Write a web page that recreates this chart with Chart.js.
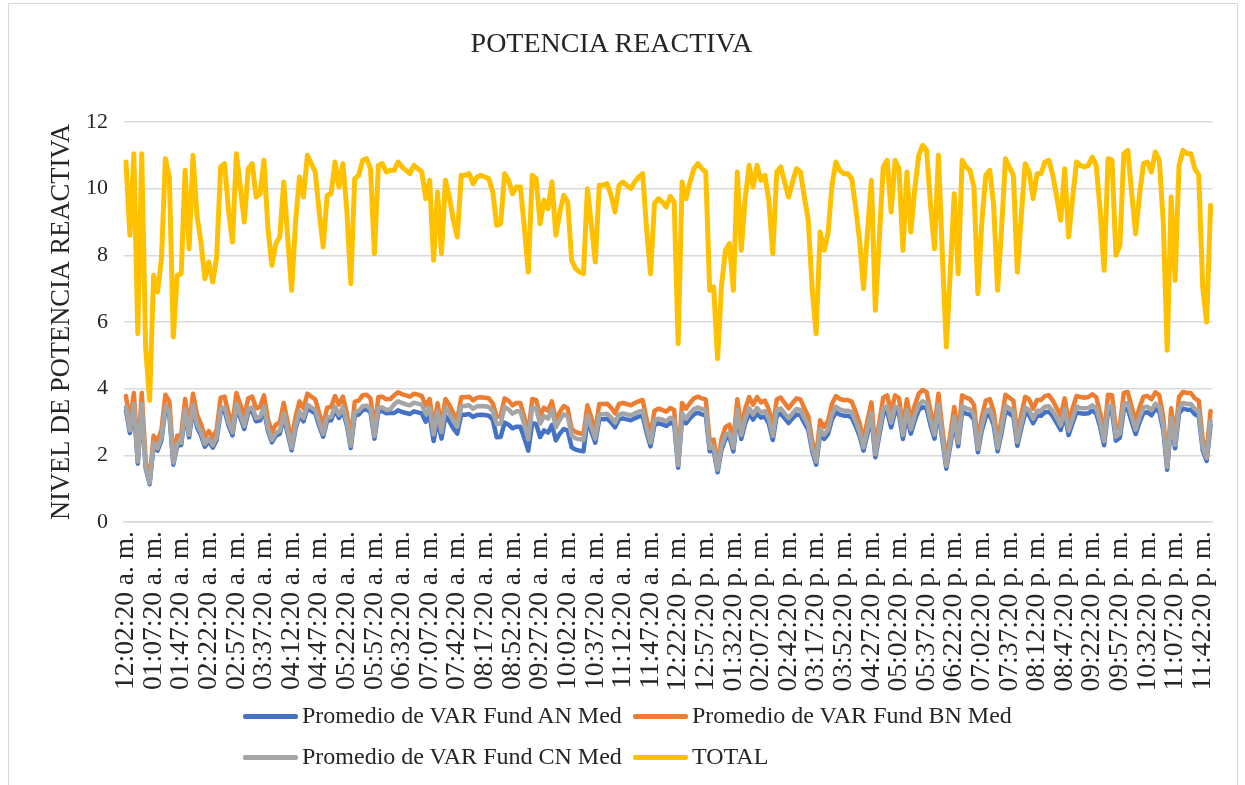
<!DOCTYPE html>
<html>
<head>
<meta charset="utf-8">
<title>Potencia reactiva</title>
<script src="https://cdn.jsdelivr.net/npm/chart.js@4.4.1/dist/chart.umd.min.js"></script>
<style>
  body { margin: 0; background: #fff; }
  #wrap {
    position: relative; width: 1245px; height: 785px; overflow: hidden;
    font-family: "Liberation Serif", "Times New Roman", serif; color: #262626;
  }
  #frame { position: absolute; left: 8px; top: 3px; width: 1228px; height: 800px; border: 1px solid #d9d9d9; }
  #title { position: absolute; left: 0; top: 27px; width: 1223px; text-align: center; font-size: 28px; line-height: 32px; }
  #chart { position: absolute; left: 0; top: 0; }
  .leg-line { position: absolute; width: 55px; height: 5px; border-radius: 2px; }
  .leg-text { position: absolute; font-size: 24px; line-height: 28px; white-space: nowrap; }
</style>
</head>
<body>
<div id="wrap">
  <div id="frame"></div>
  <canvas id="chart" width="1245" height="785"></canvas>
  <div id="title">POTENCIA REACTIVA</div>
  <div id="legend"></div>
</div>
<script>
// Timestamps: every 5 minutes from 12:02:20 a.m. to 11:52:20 p.m., minus the gaps in the log
const firstTime = "00:02:20";
const lastTime = "23:52:20";
const missingTimes = ["00:12:20", "00:22:20", "00:32:20", "00:42:20", "00:47:20", "00:57:20",
  "01:27:20", "03:17:20", "17:57:20", "18:07:20", "18:42:20"];
const labelEvery = 7;

const yTicks = [0, 2, 4, 6, 8, 10, 12];

const seriesNames = ["Promedio de VAR Fund AN Med", "Promedio de VAR Fund BN Med",
  "Promedio de VAR Fund CN Med", "TOTAL"];
const seriesColors = ["#4472C4", "#ED7D31", "#A5A5A5", "#FFC000"];

const totalValues = [
  10.8, 8.6, 11.05, 5.65, 11.05, 5.2, 3.65, 7.4, 6.9, 7.9, 10.9, 10.35,
  5.55, 7.4, 7.45, 10.55, 8.2, 11.0, 9.2, 8.4, 7.3, 7.8, 7.2, 7.95,
  10.65, 10.75, 9.35, 8.4, 11.05, 10.05, 9.0, 10.6, 10.75, 9.75, 9.85, 10.85,
  8.8, 7.7, 8.35, 8.55, 10.2, 8.55, 6.95, 9.0, 10.35, 9.75, 11.0, 10.75,
  10.5, 9.3, 8.25, 9.8, 9.85, 10.8, 10.05, 10.75, 9.35, 7.15, 10.3, 10.4,
  10.85, 10.9, 10.6, 8.05, 10.7, 10.75, 10.5, 10.55, 10.55, 10.8, 10.65, 10.55,
  10.45, 10.7, 10.6, 10.5, 9.7, 10.25, 7.85, 9.9, 8.05, 10.25, 9.75, 9.05,
  8.55, 10.4, 10.4, 10.45, 10.15, 10.35, 10.4, 10.35, 10.3, 9.9, 8.9, 8.95,
  10.45, 10.25, 9.85, 10.05, 10.05, 8.85, 7.5, 10.4, 10.3, 8.95, 9.65, 9.4,
  10.2, 8.6, 9.3, 9.8, 9.6, 7.85, 7.6, 7.5, 7.45, 10.0, 8.9, 7.8,
  10.1, 10.1, 10.15, 9.8, 9.3, 10.1, 10.2, 10.1, 10.0, 10.2, 10.35, 10.45,
  8.8, 7.45, 9.55, 9.7, 9.6, 9.45, 9.77, 9.6, 5.35, 10.2, 9.7, 10.2,
  10.6, 10.75, 10.6, 10.5, 6.95, 7.05, 4.9, 7.1, 8.15, 8.35, 6.95, 10.5,
  8.15, 9.7, 10.7, 10.05, 10.7, 10.25, 10.4, 9.65, 8.05, 10.5, 10.65, 10.2,
  9.75, 10.2, 10.6, 10.5, 9.75, 9.05, 6.95, 5.65, 8.7, 8.15, 8.65, 10.1,
  10.8, 10.55, 10.45, 10.45, 10.3, 9.45, 8.45, 7.0, 8.7, 10.25, 6.35, 8.5,
  10.65, 10.85, 9.3, 10.85, 10.6, 8.15, 10.5, 8.7, 10.0, 11.0, 11.3, 11.15,
  9.5, 8.2, 11.0, 8.0, 5.25, 7.5, 9.85, 7.45, 10.85, 10.65, 10.55, 10.05,
  6.85, 9.0, 10.4, 10.55, 9.5, 6.95, 8.8, 10.9, 10.65, 10.4, 7.5, 9.2,
  10.75, 10.5, 9.7, 10.45, 10.45, 10.8, 10.85, 10.4, 9.75, 9.05, 10.6, 8.55,
  9.7, 10.8, 10.7, 10.65, 10.7, 10.95, 10.7, 9.35, 7.55, 10.9, 10.85, 8.0,
  8.3, 11.05, 11.15, 9.85, 8.65, 9.85, 10.75, 10.8, 10.5, 11.1, 10.85, 9.0,
  5.15, 9.75, 7.25, 10.7, 11.15, 11.05, 11.05, 10.6, 10.4, 7.05, 6.0, 9.5
];

const phaseAValues = [
  3.35, 2.67, 3.43, 1.75, 3.43, 1.61, 1.13, 2.29, 2.14, 2.45, 3.38, 3.21,
  1.72, 2.29, 2.31, 3.27, 2.54, 3.41, 2.85, 2.60, 2.26, 2.42, 2.23, 2.46,
  3.30, 3.33, 2.90, 2.60, 3.43, 3.12, 2.79, 3.29, 3.33, 3.02, 3.05, 3.36,
  2.73, 2.39, 2.59, 2.65, 3.16, 2.65, 2.15, 2.79, 3.21, 3.02, 3.41, 3.33,
  3.26, 2.88, 2.56, 3.04, 3.05, 3.35, 3.12, 3.33, 2.90, 2.22, 3.19, 3.22,
  3.36, 3.38, 3.29, 2.50, 3.32, 3.33, 3.26, 3.27, 3.27, 3.35, 3.30, 3.27,
  3.24, 3.32, 3.29, 3.26, 3.01, 3.18, 2.43, 3.07, 2.50, 3.18, 3.02, 2.81,
  2.65, 3.22, 3.22, 3.24, 3.15, 3.21, 3.22, 3.21, 3.19, 3.07, 2.54, 2.55,
  2.98, 2.92, 2.81, 2.86, 2.86, 2.52, 2.14, 2.96, 2.94, 2.55, 2.75, 2.68,
  2.91, 2.45, 2.65, 2.79, 2.74, 2.24, 2.17, 2.14, 2.12, 3.05, 2.71, 2.38,
  3.08, 3.08, 3.10, 2.99, 2.84, 3.08, 3.11, 3.08, 3.05, 3.11, 3.16, 3.19,
  2.68, 2.27, 2.91, 2.96, 2.93, 2.88, 2.98, 2.93, 1.63, 3.11, 2.96, 3.11,
  3.23, 3.28, 3.23, 3.20, 2.12, 2.15, 1.49, 2.17, 2.49, 2.55, 2.12, 3.20,
  2.49, 2.96, 3.26, 3.07, 3.26, 3.13, 3.17, 2.94, 2.46, 3.20, 3.25, 3.11,
  2.97, 3.11, 3.23, 3.20, 2.97, 2.76, 2.12, 1.72, 2.65, 2.49, 2.64, 3.08,
  3.29, 3.22, 3.19, 3.19, 3.14, 2.88, 2.58, 2.14, 2.65, 3.13, 1.94, 2.59,
  3.25, 3.31, 2.84, 3.31, 3.23, 2.49, 3.20, 2.65, 3.05, 3.36, 3.45, 3.40,
  2.90, 2.50, 3.36, 2.44, 1.60, 2.29, 3.00, 2.27, 3.31, 3.25, 3.22, 3.07,
  2.09, 2.75, 3.17, 3.22, 2.90, 2.12, 2.68, 3.32, 3.25, 3.17, 2.29, 2.81,
  3.28, 3.20, 2.96, 3.19, 3.19, 3.29, 3.31, 3.17, 2.97, 2.76, 3.23, 2.61,
  2.96, 3.29, 3.26, 3.25, 3.26, 3.34, 3.26, 2.85, 2.30, 3.32, 3.31, 2.44,
  2.53, 3.37, 3.40, 3.00, 2.64, 3.00, 3.28, 3.29, 3.20, 3.39, 3.31, 2.75,
  1.57, 2.97, 2.21, 3.26, 3.40, 3.37, 3.37, 3.23, 3.17, 2.15, 1.83, 2.90
];

const phaseBValues = [
  3.78, 3.01, 3.87, 1.98, 3.87, 1.82, 1.28, 2.59, 2.42, 2.77, 3.82, 3.62,
  1.94, 2.59, 2.61, 3.69, 2.87, 3.85, 3.22, 2.94, 2.56, 2.73, 2.52, 2.78,
  3.73, 3.76, 3.27, 2.94, 3.87, 3.52, 3.15, 3.71, 3.76, 3.41, 3.45, 3.80,
  3.08, 2.70, 2.92, 2.99, 3.57, 2.99, 2.43, 3.15, 3.62, 3.41, 3.85, 3.76,
  3.68, 3.26, 2.89, 3.43, 3.45, 3.78, 3.52, 3.76, 3.27, 2.50, 3.61, 3.64,
  3.80, 3.82, 3.71, 2.82, 3.75, 3.76, 3.68, 3.69, 3.80, 3.89, 3.83, 3.80,
  3.76, 3.85, 3.82, 3.78, 3.49, 3.69, 2.83, 3.56, 2.90, 3.69, 3.51, 3.26,
  3.08, 3.74, 3.74, 3.76, 3.65, 3.73, 3.74, 3.73, 3.71, 3.56, 3.16, 3.18,
  3.71, 3.64, 3.50, 3.57, 3.57, 3.14, 2.66, 3.69, 3.66, 3.18, 3.43, 3.34,
  3.62, 3.05, 3.30, 3.48, 3.41, 2.79, 2.70, 2.66, 2.64, 3.50, 3.12, 2.73,
  3.54, 3.54, 3.55, 3.43, 3.26, 3.54, 3.57, 3.54, 3.50, 3.57, 3.62, 3.66,
  3.08, 2.61, 3.34, 3.40, 3.36, 3.31, 3.42, 3.36, 1.87, 3.57, 3.40, 3.57,
  3.71, 3.76, 3.71, 3.68, 2.43, 2.47, 1.72, 2.49, 2.85, 2.92, 2.43, 3.68,
  2.85, 3.40, 3.75, 3.52, 3.75, 3.59, 3.64, 3.38, 2.82, 3.68, 3.73, 3.57,
  3.41, 3.57, 3.71, 3.68, 3.41, 3.17, 2.43, 1.98, 3.05, 2.85, 3.03, 3.54,
  3.78, 3.69, 3.66, 3.66, 3.61, 3.31, 2.96, 2.45, 3.05, 3.59, 2.22, 2.98,
  3.73, 3.80, 3.26, 3.80, 3.71, 2.85, 3.68, 3.05, 3.50, 3.85, 3.96, 3.90,
  3.33, 2.87, 3.85, 2.80, 1.84, 2.63, 3.45, 2.61, 3.80, 3.73, 3.69, 3.52,
  2.40, 3.15, 3.64, 3.69, 3.33, 2.43, 3.08, 3.82, 3.73, 3.64, 2.63, 3.22,
  3.76, 3.68, 3.40, 3.66, 3.66, 3.78, 3.80, 3.64, 3.41, 3.17, 3.71, 2.99,
  3.40, 3.78, 3.75, 3.73, 3.75, 3.83, 3.75, 3.27, 2.64, 3.82, 3.80, 2.80,
  2.91, 3.87, 3.90, 3.45, 3.03, 3.45, 3.76, 3.78, 3.68, 3.89, 3.80, 3.15,
  1.80, 3.41, 2.54, 3.75, 3.90, 3.87, 3.87, 3.71, 3.64, 2.47, 2.10, 3.33
];

const phaseCValues = [
  3.46, 2.75, 3.54, 1.81, 3.54, 1.66, 1.17, 2.37, 2.21, 2.53, 3.49, 3.31,
  1.78, 2.37, 2.38, 3.38, 2.62, 3.52, 2.94, 2.69, 2.34, 2.50, 2.30, 2.54,
  3.41, 3.44, 2.99, 2.69, 3.54, 3.22, 2.88, 3.39, 3.44, 3.12, 3.15, 3.47,
  2.82, 2.46, 2.67, 2.74, 3.26, 2.74, 2.22, 2.88, 3.31, 3.12, 3.52, 3.44,
  3.36, 2.98, 2.64, 3.14, 3.15, 3.46, 3.22, 3.44, 2.99, 2.29, 3.30, 3.33,
  3.47, 3.49, 3.39, 2.58, 3.42, 3.44, 3.36, 3.38, 3.53, 3.62, 3.57, 3.53,
  3.50, 3.58, 3.55, 3.52, 3.25, 3.43, 2.63, 3.32, 2.70, 3.43, 3.27, 3.03,
  2.86, 3.48, 3.48, 3.50, 3.40, 3.47, 3.48, 3.47, 3.45, 3.32, 2.94, 2.95,
  3.45, 3.38, 3.25, 3.32, 3.32, 2.92, 2.48, 3.43, 3.40, 2.95, 3.18, 3.10,
  3.37, 2.84, 3.07, 3.23, 3.17, 2.59, 2.51, 2.48, 2.46, 3.20, 2.85, 2.50,
  3.23, 3.23, 3.25, 3.14, 2.98, 3.23, 3.26, 3.23, 3.20, 3.26, 3.31, 3.34,
  2.82, 2.38, 3.06, 3.10, 3.07, 3.02, 3.13, 3.07, 1.71, 3.26, 3.10, 3.26,
  3.39, 3.44, 3.39, 3.36, 2.22, 2.26, 1.57, 2.27, 2.61, 2.67, 2.22, 3.36,
  2.61, 3.10, 3.42, 3.22, 3.42, 3.28, 3.33, 3.09, 2.58, 3.36, 3.41, 3.26,
  3.12, 3.26, 3.39, 3.36, 3.12, 2.90, 2.22, 1.81, 2.78, 2.61, 2.77, 3.23,
  3.46, 3.38, 3.34, 3.34, 3.30, 3.02, 2.70, 2.24, 2.78, 3.28, 2.03, 2.72,
  3.41, 3.47, 2.98, 3.47, 3.39, 2.61, 3.36, 2.78, 3.20, 3.52, 3.62, 3.57,
  3.04, 2.62, 3.52, 2.56, 1.68, 2.40, 3.15, 2.38, 3.47, 3.41, 3.38, 3.22,
  2.19, 2.88, 3.33, 3.38, 3.04, 2.22, 2.82, 3.49, 3.41, 3.33, 2.40, 2.94,
  3.44, 3.36, 3.10, 3.34, 3.34, 3.46, 3.47, 3.33, 3.12, 2.90, 3.39, 2.74,
  3.10, 3.46, 3.42, 3.41, 3.42, 3.50, 3.42, 2.99, 2.42, 3.49, 3.47, 2.56,
  2.66, 3.54, 3.57, 3.15, 2.77, 3.15, 3.44, 3.46, 3.36, 3.55, 3.47, 2.88,
  1.65, 3.12, 2.32, 3.42, 3.57, 3.54, 3.54, 3.39, 3.33, 2.26, 1.92, 3.04
];

// build the category labels ("12:02:20 a. m." style)
function pad(n) { return String(n).padStart(2, "0"); }
function toMinutes(t) { const p = t.split(":"); return +p[0] * 60 + +p[1]; }
function formatTime(mins) {
  const h = Math.floor(mins / 60), m = mins % 60;
  const suffix = h < 12 ? "a. m." : "p. m.";
  const hh = h % 12 === 0 ? 12 : h % 12;
  return pad(hh) + ":" + pad(m) + ":20 " + suffix;
}
const timeLabels = [];
for (let t = toMinutes(firstTime); t <= toMinutes(lastTime); t += 5) {
  const key = pad(Math.floor(t / 60)) + ":" + pad(t % 60) + ":20";
  if (!missingTimes.includes(key)) timeLabels.push(formatTime(t));
}

const seriesValues = [phaseAValues, phaseBValues, phaseCValues, totalValues];

const datasets = seriesNames.map((name, i) => ({
  label: name,
  data: seriesValues[i],
  borderColor: seriesColors[i],
  backgroundColor: seriesColors[i],
  borderWidth: i === 3 ? 5 : 4.5,
  pointRadius: 0,
  tension: 0,
  borderJoinStyle: "round",
  borderCapStyle: "round",
  order: 4 - i  // later series drawn on top, like the spreadsheet
}));

const serif = "'Liberation Serif', 'Times New Roman', serif";

new Chart(document.getElementById("chart"), {
  type: "line",
  data: { labels: timeLabels, datasets: datasets },
  options: {
    responsive: false,
    animation: false,
    layout: { padding: { left: 40, right: 32, top: 122, bottom: 83 } },
    plugins: {
      legend: { display: false },
      tooltip: { enabled: false },
      title: { display: false }
    },
    scales: {
      x: {
        offset: true,
        grid: { display: false, drawTicks: false },
        border: { display: true, color: "#d9d9d9", width: 1.5 },
        ticks: {
          autoSkip: false,
          maxRotation: 90,
          minRotation: 90,
          padding: 9,
          color: "#262626",
          font: { family: serif, size: 27.5 },
          callback: function (value, index) {
            return index % labelEvery === 0 ? this.getLabelForValue(value) : null;
          }
        },
        afterFit: (scale) => { scale.height = 180; }
      },
      y: {
        min: yTicks[0],
        max: yTicks[yTicks.length - 1],
        afterBuildTicks: (scale) => { scale.ticks = yTicks.map(v => ({ value: v })); },
        grid: { color: "#d9d9d9", lineWidth: 1.5, drawTicks: false },
        border: { display: false },
        ticks: {
          padding: 16,
          color: "#262626",
          font: { family: serif, size: 22 }
        },
        title: {
          display: true,
          text: "NIVEL DE POTENCIA REACTIVA",
          color: "#262626",
          font: { family: serif, size: 26.5 },
          padding: { top: 6, bottom: 4 }
        },
        afterFit: (scale) => { scale.width = 84; }
      }
    }
  }
});

// legend laid out in two aligned columns
const legend = document.getElementById("legend");
const legendSpots = [[243, 716], [633, 716], [243, 757], [633, 757]];
seriesNames.forEach((name, i) => {
  const [x, y] = legendSpots[i];
  const line = document.createElement("div");
  line.className = "leg-line";
  line.style.left = x + "px";
  line.style.top = (y - 2) + "px";
  line.style.background = seriesColors[i];
  const text = document.createElement("div");
  text.className = "leg-text";
  text.style.left = (x + 59) + "px";
  text.style.top = (y - 15) + "px";
  text.textContent = name;
  legend.appendChild(line);
  legend.appendChild(text);
});
</script>
</body>
</html>
